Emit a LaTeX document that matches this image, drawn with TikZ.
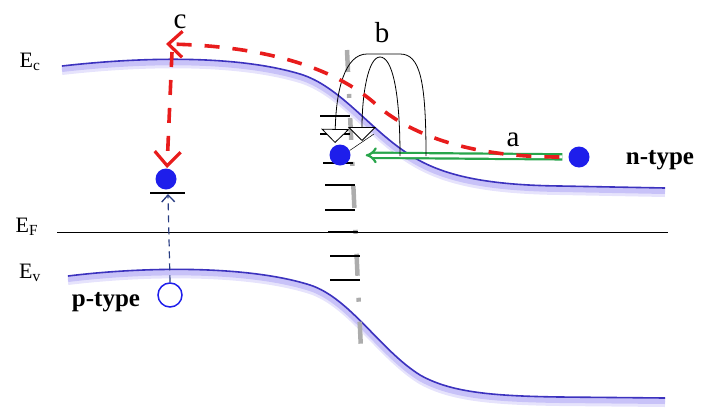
\documentclass[tikz,border=0pt]{standalone}
\usepackage{fontspec}
\setmainfont{Liberation Serif}
\usetikzlibrary{arrows.meta,positioning,calc}
\definecolor{bandblue}{RGB}{60,50,190}
\definecolor{bandglow}{RGB}{200,194,248}
\definecolor{dotblue}{RGB}{30,30,235}
\definecolor{pathred}{RGB}{232,28,28}
\definecolor{hopgreen}{RGB}{40,165,75}
\definecolor{trapnavy}{RGB}{40,60,130}

\begin{document}
\begin{tikzpicture}[x=1pt, y=-1pt]
  \tikzstyle{band} = [draw=bandblue, line width=1.6pt]
  \tikzstyle{glow} = [draw=bandglow, line width=6pt]
  \tikzstyle{electron} = [circle, fill=dotblue, minimum size=21pt, inner sep=0pt]
  \tikzstyle{hole} = [circle, draw=dotblue, line width=1.5pt, minimum size=24pt, inner sep=0pt]
  \tikzstyle{hot} = [draw=pathred, line width=3.6pt, dash pattern=on 15pt off 13pt, -{Straight Barb[length=14pt, width=26pt, line width=3.2pt]}]
  \tikzstyle{hop} = [draw=hopgreen, line width=2.2pt, double=white, double distance=3pt, -{Implies[length=10pt]}]
  \tikzstyle{tunnel} = [draw=black, line width=0.8pt, -{Triangle[open, length=14pt, width=28pt, fill=white]}]
  \tikzstyle{level} = [draw=black, line width=1.8pt]
  \tikzstyle{iface} = [draw=gray!65, line width=4.5pt, dash pattern=on 22pt off 22pt on 4pt off 20pt]
  \tikzstyle{lbl} = [font=\fontsize{29}{30}\selectfont, inner sep=0pt]
  \tikzstyle{elbl} = [font=\fontsize{22}{24}\selectfont, inner sep=0pt]
  \tikzstyle{tlbl} = [font=\fontsize{25}{26}\selectfont\bfseries, inner sep=0pt]

  \useasboundingbox (0,0) rectangle (703,407);

  % band glow
  \foreach \dy/\op in {6/0.45, 3/1} {
    \begin{scope}[shift={(0,\dy)}, opacity=\op]
      \draw[glow] (62,66) .. controls (150,56) and (240,56) .. (300,74)
        .. controls (340,86) and (370,130) .. (410,155)
        .. controls (440,174) and (480,185) .. (560,186) -- (665,188);
      \draw[glow] (68,276) .. controls (150,266) and (250,266) .. (310,285)
        .. controls (350,298) and (380,350) .. (420,375)
        .. controls (450,392) and (490,396) .. (560,397) -- (665,398);
    \end{scope}
  }

  % bands
  \draw[band] (62,66) .. controls (150,56) and (240,56) .. (300,74)
    .. controls (340,86) and (370,130) .. (410,155)
    .. controls (440,174) and (480,185) .. (560,186) -- (665,188);
  \draw[band] (68,276) .. controls (150,266) and (250,266) .. (310,285)
    .. controls (350,298) and (380,350) .. (420,375)
    .. controls (450,392) and (490,396) .. (560,397) -- (665,398);
  \draw[black, line width=0.8pt] (57,232) -- (668,232);

  % interface and its levels
  \draw[iface] (347,50) -- (361,350);
  \foreach \y/\xa in {116/320, 134/320, 163/323, 185/325, 210/325, 232/328, 256/330, 280/330}
    \draw[level] (\xa,\y) -- ++(30,0);

  \node[elbl] (ec) at (30,62) {E\textsubscript{c}};
  \node[elbl] (ef) at (27,227) {E\textsubscript{F}};
  \node[elbl] (ev) at (30,273) {E\textsubscript{v}};

  % carriers
  \node[electron] (e_n) at (579,157) {};
  \node[electron] (e_i) at (340,155) {};
  \node[electron] (e_p) at (166,179) {};
  \node[hole] (h_p) at (170,295) {};
  \draw[level, line width=2.8pt] (150,193) -- (185,193);
  \coordinate (trap_p) at (168,194);

  \node[tlbl] (ntype) at (660,160) {n-type};
  \node[tlbl] (ptype) at (106,302) {p-type};

  % a: hopping along the interface
  \draw[hop] (e_n) -- (e_i) [shorten <=6pt, shorten >=15pt];
  \node[lbl] (la) at (513,140) {a};

  % b: tunnelling
  \coordinate (b_out) at (426,156);
  \coordinate (b_in) at (400,156);
  \coordinate (b_tip1) at (335,143);
  \coordinate (b_tip2) at (362,141);
  \coordinate (b_corner) at (374,134);
  \draw[tunnel] (b_out) .. controls (426,80) and (420,54) .. (400,54) -- (367,54)
    .. controls (345,54) and (336,90) .. (b_tip1);
  \draw[tunnel] (b_in) .. controls (400,90) and (392,57) .. (380,57)
    .. controls (368,57) and (362,95) .. (b_tip2);
  \draw[black, line width=0.5pt] (b_corner) -- (e_i.25);
  \node[lbl] (lb) at (382,33) {b};

  % c: over the barrier and down to the trap
  \coordinate (c_top) at (166,44);
  \coordinate (c_bend) at (172,52);
  \coordinate (c_trap) at (167,168);
  \draw[hot] (e_n.west) [shorten <=9pt] .. controls (480,157) and (420,140) .. (380,108)
    .. controls (340,70) and (270,46) .. (c_top);
  \draw[hot] (c_bend) -- (c_trap);
  \draw[draw=trapnavy, line width=1.2pt, dash pattern=on 7pt off 5pt, -{Straight Barb[length=7pt, width=13pt, line width=1.3pt]}] (h_p.north) -- (trap_p);
  \node[lbl] (lc) at (180,22) {c};
\end{tikzpicture}
\end{document}
